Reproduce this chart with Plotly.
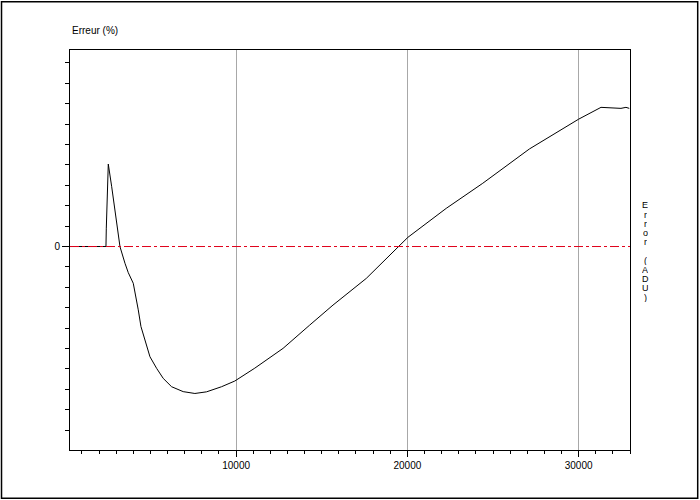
import plotly.graph_objects as go

# Data
adu = [300, 2400, 2420, 2536, 2735, 2927, 3219, 3510, 3703, 3994, 4152, 4286,
       4443, 4676, 4968, 5359, 5743, 6233, 6910, 7592, 8274, 9149, 9924, 11090,
       12741, 14297, 15656, 17603, 19446, 20029, 22268, 24402, 27125, 30000,
       31306, 32472, 32764, 32957]
err = [0, 0, 0.9, 4.04, 2.93, 1.79, -0.01, -0.82, -1.28, -1.80, -2.45, -3.10,
       -3.92, -4.58, -5.40, -5.97, -6.46, -6.87, -7.11, -7.20, -7.12, -6.87,
       -6.59, -5.96, -4.99, -3.85, -2.87, -1.56, -0.01, 0.45, 1.87, 3.10, 4.78,
       6.24, 6.82, 6.77, 6.82, 6.77]
x_ticks = [10000, 20000, 30000]
x_tick_labels = ["10000", "20000", "30000"]
y_ticks = [0]
y_tick_labels = ["0"]
y_title = "Erreur (%)"
y2_title = "Error (ADU)"

FONT = "Liberation Sans, Arial, sans-serif"

fig = go.Figure()
fig.add_trace(go.Scatter(x=adu, y=err, mode="lines",
                         line=dict(color="black", width=1), showlegend=False,
                         hoverinfo="x+y"))
# zero reference line (dash-dot red), drawn above the curve
fig.add_trace(go.Scatter(x=[300, 33000], y=[0, 0], mode="lines",
                         line=dict(color="#e0001b", width=1, dash="dashdot"),
                         showlegend=False, hoverinfo="skip"))

# vertical stacked right-side label, one character per line
annotations = [
    dict(text=y_title, xref="paper", yref="paper", x=0, y=1.0475,
         xanchor="left", yanchor="middle", showarrow=False,
         font=dict(size=10)),
]
for i, ch in enumerate(y2_title):
    if ch == " ":
        continue
    ypx = 205 + 9.2 * i
    annotations.append(dict(text=ch, xref="paper", yref="paper",
                            x=(645 - 70) / 560, y=(450 - ypx) / 400,
                            xanchor="center", yanchor="middle",
                            showarrow=False, font=dict(size=9, color="black"),
                            height=9, borderpad=0))

fig.update_layout(
    width=700, height=500,
    margin=dict(l=70, r=70, t=50, b=50),
    paper_bgcolor="white", plot_bgcolor="white",
    font=dict(family=FONT, size=10, color="black"),
    xaxis=dict(range=[300, 33000], tickvals=x_ticks, ticktext=x_tick_labels,
               showgrid=True, gridcolor="#a8a8a8", gridwidth=1,
               ticks="outside", ticklen=6, tickcolor="black", tickwidth=1,
               minor=dict(dtick=1000, tick0=0, ticks="outside", ticklen=3,
                          tickcolor="black", showgrid=False),
               showline=True, linecolor="black", linewidth=1, mirror=True,
               zeroline=False, tickfont=dict(size=10)),
    yaxis=dict(range=[-9.97, 9.63], tickvals=y_ticks, ticktext=y_tick_labels,
               showgrid=False, ticks="outside", ticklen=7, tickcolor="black",
               tickwidth=1,
               minor=dict(dtick=1, tick0=0, ticks="outside", ticklen=4,
                          tickcolor="black", showgrid=False),
               showline=True, linecolor="black", linewidth=1, mirror=True,
               zeroline=False, tickfont=dict(size=10)),
    shapes=[dict(type="rect", xref="paper", yref="paper",
                 x0=-0.1223, x1=1.1209, y0=-0.1208, y1=1.1208,
                 line=dict(color="black", width=1.5), layer="below")],
    annotations=annotations,
)

fig.write_html("out.html", config={"displayModeBar": False},
               post_script="document.body.style.margin='0';document.body.style.padding='0';")
